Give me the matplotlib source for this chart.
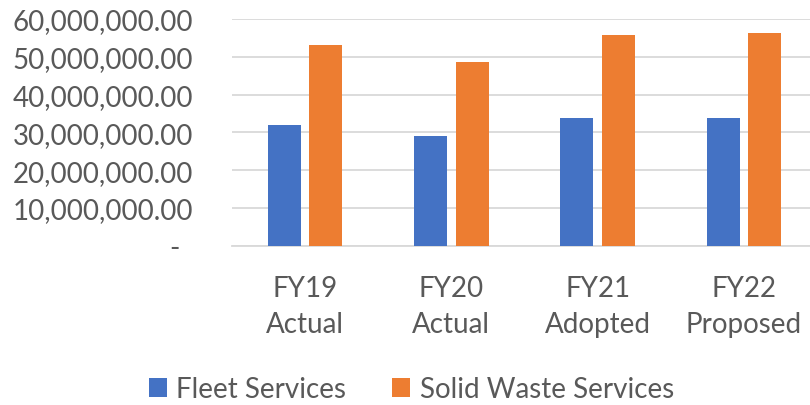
import matplotlib
matplotlib.use("Agg")
import matplotlib.pyplot as plt
import matplotlib.transforms as mtransforms
import numpy as np
from matplotlib.ticker import FuncFormatter

categories = ["FY19\nActual", "FY20\nActual", "FY21\nAdopted", "FY22\nProposed"]
series_names = ["Fleet Services", "Solid Waste Services"]
fleet = [31.9e6, 29.0e6, 33.8e6, 33.8e6]
solid_waste = [53.1e6, 48.5e6, 55.7e6, 56.4e6]
yticks = [0, 10e6, 20e6, 30e6, 40e6, 50e6, 60e6]

colors = ["#4472C4", "#ED7D31"]
text_color = "#595959"
grid_color = "#D9D9D9"
FS = 20

plt.rcParams['font.family'] = ['Lato', 'DejaVu Sans']

fig = plt.figure(figsize=(8.1, 4.06), dpi=100)
ax = fig.add_axes([232/810, 1-246.7/406, (817-232)/810, (246.7-20)/406])

x = np.arange(len(categories))
w = 0.225
off = 0.1415
ax.bar(x - off, fleet, width=w, color=colors[0], label=series_names[0], zorder=3)
ax.bar(x + off, solid_waste, width=w, color=colors[1], label=series_names[1], zorder=3)

ax.set_xlim(-0.5, len(categories) - 0.5)
ax.set_ylim(0, 60e6)
ax.set_yticks(yticks)
ax.yaxis.set_major_formatter(FuncFormatter(lambda v, p: "-" if v == 0 else f"{v:,.2f}"))
ax.set_xticks(x)
ax.set_xticklabels(categories, linespacing=1.5)

ax.grid(axis='y', color=grid_color, linewidth=1.3, zorder=0)
ax.set_axisbelow(True)
for s in ["top", "right", "left"]:
    ax.spines[s].set_visible(False)
ax.spines["bottom"].set_color(grid_color)
ax.spines["bottom"].set_linewidth(1.3)

ax.tick_params(axis='y', length=0, pad=28, labelsize=FS, labelcolor=text_color)
ax.tick_params(axis='x', length=0, pad=21, labelsize=FS, labelcolor=text_color)

# accounting-style dash for zero sits left of the right edge
lbl0 = ax.get_yticklabels()[0]
lbl0.set_transform(lbl0.get_transform() + mtransforms.ScaledTranslation(-13/100, 0, fig.dpi_scale_trans))

fig.legend(loc='center', bbox_to_anchor=(0.508, 1-390/406), ncol=2, frameon=False,
           fontsize=FS, labelcolor=text_color, handlelength=0.65, handleheight=0.65,
           handletextpad=0.33, columnspacing=1.66)

fig.savefig("out.png", dpi=100)
